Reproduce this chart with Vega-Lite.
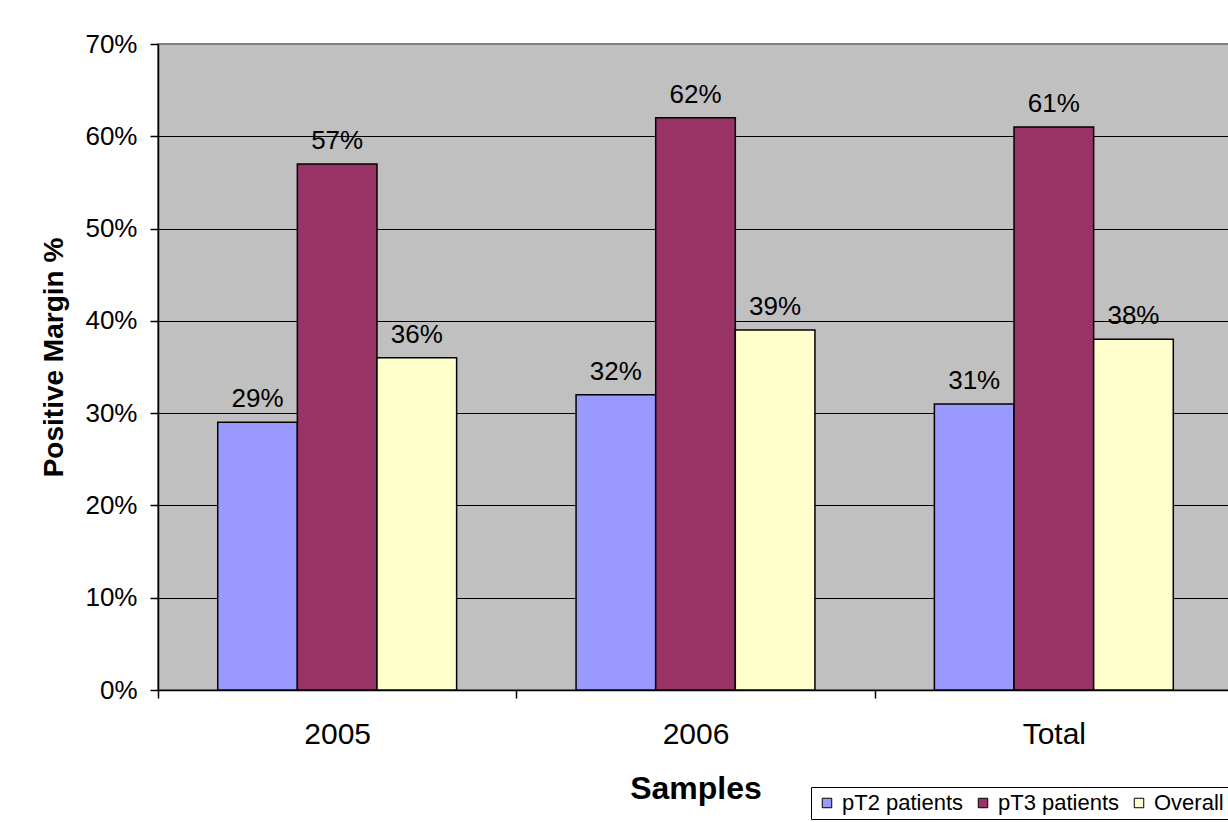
{
  "$schema": "https://vega.github.io/schema/vega-lite/v6.json",
  "autosize": "none",
  "width": 1075,
  "height": 646,
  "padding": {"left": 158, "top": 44, "right": 0, "bottom": 132},
  "background": "white",
  "config": {
    "font": "Liberation Sans",
    "view": {"fill": "#C0C0C0", "stroke": "#808080", "strokeWidth": 2}
  },
  "data": {
    "values": [
      {"sample": "2005", "group": "pT2 patients", "value": 0.29},
      {"sample": "2005", "group": "pT3 patients", "value": 0.57},
      {"sample": "2005", "group": "Overall", "value": 0.36},
      {"sample": "2006", "group": "pT2 patients", "value": 0.32},
      {"sample": "2006", "group": "pT3 patients", "value": 0.62},
      {"sample": "2006", "group": "Overall", "value": 0.39},
      {"sample": "Total", "group": "pT2 patients", "value": 0.31},
      {"sample": "Total", "group": "pT3 patients", "value": 0.61},
      {"sample": "Total", "group": "Overall", "value": 0.38}
    ]
  },
  "encoding": {
    "x": {
      "field": "sample",
      "type": "nominal",
      "sort": ["2005", "2006", "Total"],
      "scale": {"paddingInner": 0, "paddingOuter": 0},
      "axis": {
        "title": "Samples",
        "titleFontSize": 32,
        "titleFontWeight": "bold",
        "titleColor": "black",
        "titleBaseline": "alphabetic",
        "titleY": 108,
        "labelAngle": 0,
        "labelFontSize": 30,
        "labelColor": "black",
        "labelPadding": 21,
        "tickBand": "extent",
        "tickSize": 8,
        "tickColor": "black",
        "tickWidth": 1.5,
        "domainColor": "black",
        "domainWidth": 1.5,
        "grid": false
      }
    },
    "xOffset": {
      "field": "group",
      "type": "nominal",
      "sort": ["pT2 patients", "pT3 patients", "Overall"],
      "scale": {"paddingInner": 0, "paddingOuter": 0.75}
    },
    "y": {
      "field": "value",
      "type": "quantitative",
      "scale": {"domain": [0, 0.7], "nice": false},
      "axis": {
        "title": "Positive Margin %",
        "titleFontSize": 28,
        "titleFontWeight": "bold",
        "titleColor": "black",
        "titleAngle": -90,
        "titleAlign": "center",
        "titleBaseline": "alphabetic",
        "titleX": -96,
        "titleY": 313,
        "format": ".0%",
        "values": [0, 0.1, 0.2, 0.3, 0.4, 0.5, 0.6, 0.7],
        "labelFontSize": 26,
        "labelColor": "black",
        "labelPadding": 13,
        "tickSize": 8,
        "tickColor": "black",
        "tickWidth": 1.5,
        "domainColor": "black",
        "domainWidth": 1.5,
        "grid": true,
        "gridColor": {"condition": {"test": "datum.value >= 0.7", "value": "#808080"}, "value": "black"},
        "gridWidth": 1.2
      }
    }
  },
  "layer": [
    {
      "mark": {"type": "bar", "stroke": "black", "strokeWidth": 1.5},
      "encoding": {
        "color": {
          "field": "group",
          "type": "nominal",
          "sort": ["pT2 patients", "pT3 patients", "Overall"],
          "scale": {
            "domain": ["pT2 patients", "pT3 patients", "Overall"],
            "range": ["#9999FF", "#993366", "#FFFFCC"]
          },
          "legend": {
            "title": null,
            "orient": "none",
            "legendX": 653,
            "legendY": 743,
            "direction": "horizontal",
            "symbolType": "square",
            "symbolSize": 90,
            "symbolStrokeColor": "black",
            "symbolStrokeWidth": 1,
            "labelFontSize": 22,
            "labelColor": "black",
            "labelOffset": 4,
            "labelLimit": 400,
            "columnPadding": 8,
            "strokeColor": "black",
            "fillColor": "white",
            "padding": 5
          }
        }
      }
    },
    {
      "mark": {"type": "text", "fontSize": 26, "color": "black", "baseline": "alphabetic", "dy": -15},
      "encoding": {
        "text": {"field": "value", "type": "quantitative", "format": ".0%"}
      }
    }
  ]
}
